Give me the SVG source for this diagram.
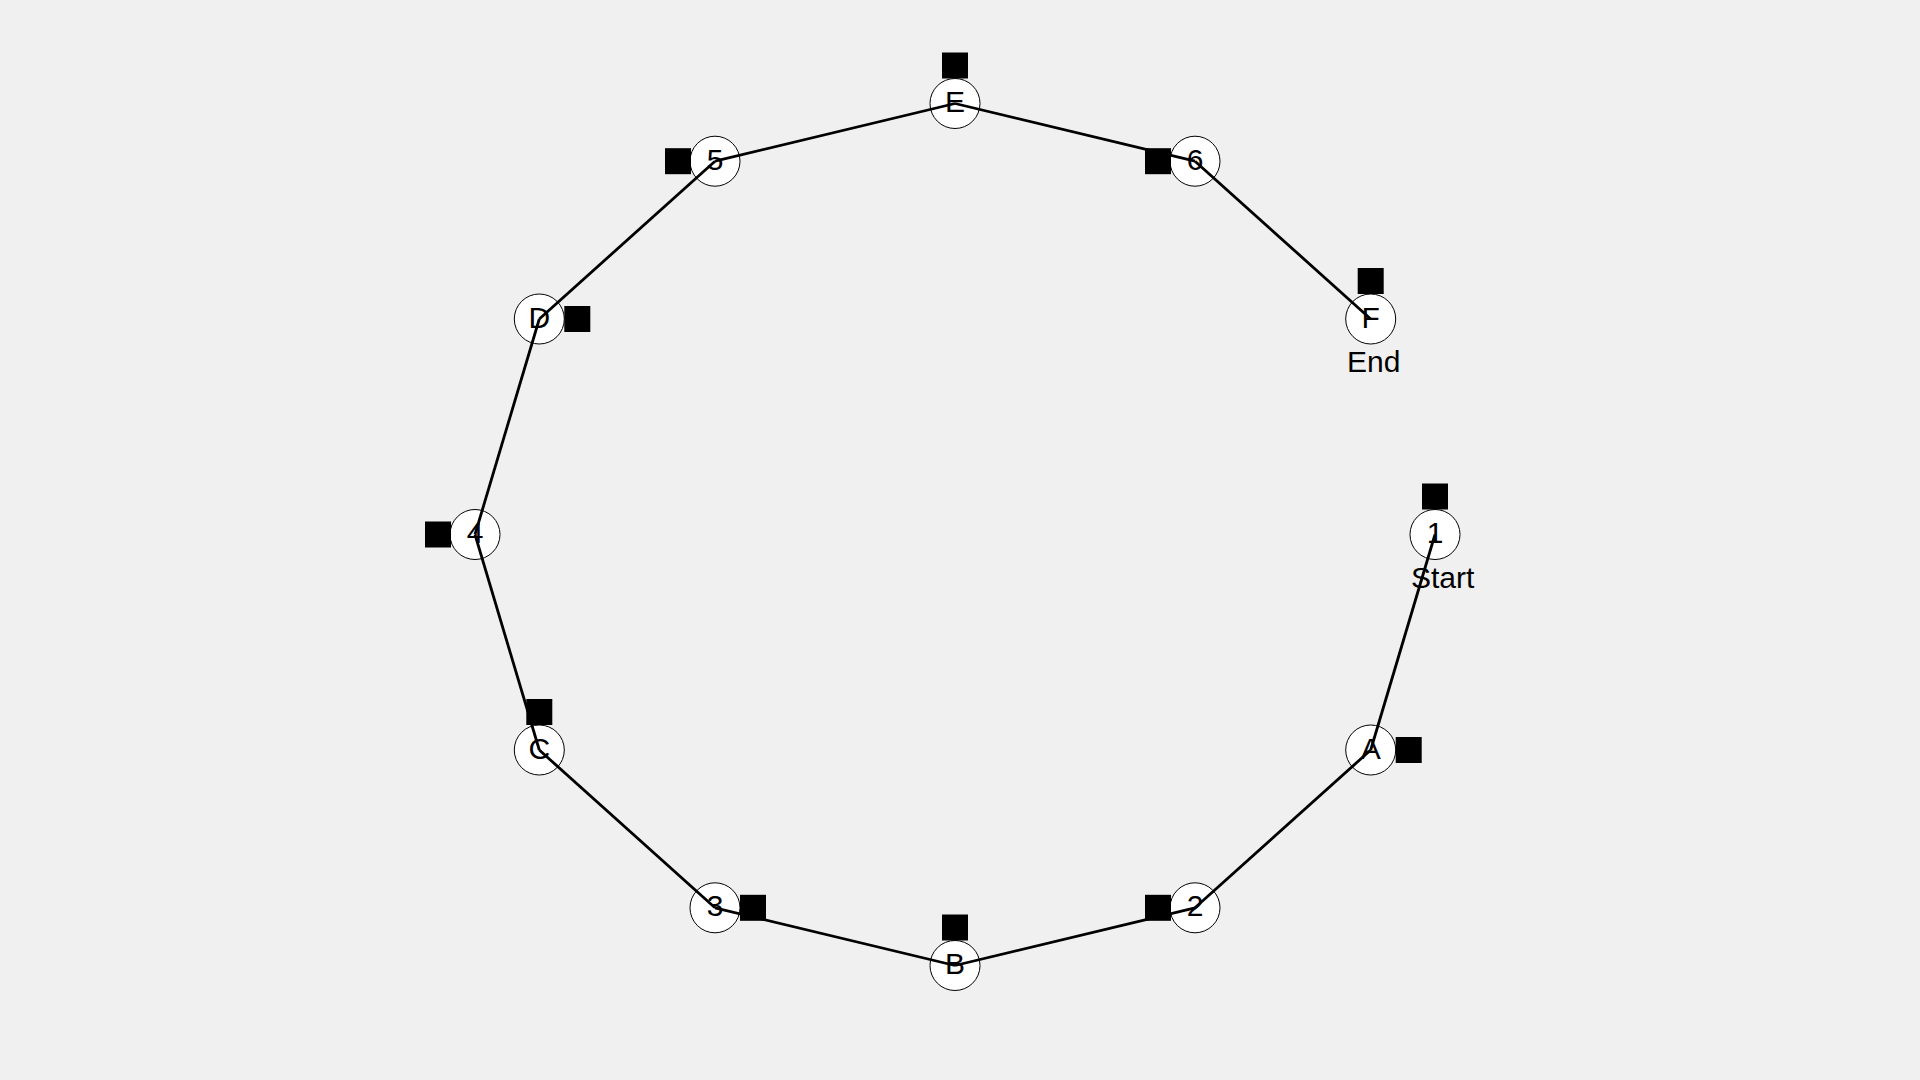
<svg xmlns="http://www.w3.org/2000/svg" width="1920" height="1080" viewBox="0 0 1920 1080">
<style>
.bg{fill:#f0f0f0}
.nc{fill:#ffffff;stroke:#000000;stroke-width:1}
.sq{fill:#000000}
.lbl{font-family:"Liberation Sans",Arial,sans-serif;font-size:30px;fill:#000000;text-anchor:middle}
.cap{font-family:"Liberation Sans",Arial,sans-serif;font-size:30px;fill:#000000}
.edge{stroke:#000000;stroke-width:2.8;fill:none}
</style>
<rect class="bg" x="0" y="0" width="1920" height="1080"/>
<g id="nodes">
<g id="node-1"><circle class="nc" cx="1435" cy="534.5" r="25"/><rect class="sq" x="1422" y="483.5" width="26" height="26"/><text class="lbl" x="1435" y="543">1</text><text class="cap" x="1411" y="588">Start</text></g>
<g id="node-A"><circle class="nc" cx="1370.7" cy="750" r="25"/><rect class="sq" x="1395.7" y="737" width="26" height="26"/><text class="lbl" x="1370.7" y="758.5">A</text></g>
<g id="node-2"><circle class="nc" cx="1195" cy="907.8" r="25"/><rect class="sq" x="1145" y="894.8" width="26" height="26"/><text class="lbl" x="1195" y="916.3">2</text></g>
<g id="node-B"><circle class="nc" cx="955" cy="965.5" r="25"/><rect class="sq" x="942" y="914.5" width="26" height="26"/><text class="lbl" x="955" y="974">B</text></g>
<g id="node-3"><circle class="nc" cx="715" cy="907.8" r="25"/><rect class="sq" x="740" y="894.8" width="26" height="26"/><text class="lbl" x="715" y="916.3">3</text></g>
<g id="node-C"><circle class="nc" cx="539.3" cy="750" r="25"/><rect class="sq" x="526.3" y="699" width="26" height="26"/><text class="lbl" x="539.3" y="758.5">C</text></g>
<g id="node-4"><circle class="nc" cx="475" cy="534.5" r="25"/><rect class="sq" x="425" y="521.5" width="26" height="26"/><text class="lbl" x="475" y="543">4</text></g>
<g id="node-D"><circle class="nc" cx="539.3" cy="319" r="25"/><rect class="sq" x="564.3" y="306" width="26" height="26"/><text class="lbl" x="539.3" y="327.5">D</text></g>
<g id="node-5"><circle class="nc" cx="715" cy="161.2" r="25"/><rect class="sq" x="665" y="148.2" width="26" height="26"/><text class="lbl" x="715" y="169.7">5</text></g>
<g id="node-E"><circle class="nc" cx="955" cy="103.5" r="25"/><rect class="sq" x="942" y="52.5" width="26" height="26"/><text class="lbl" x="955" y="112">E</text></g>
<g id="node-6"><circle class="nc" cx="1195" cy="161.2" r="25"/><rect class="sq" x="1145" y="148.2" width="26" height="26"/><text class="lbl" x="1195" y="169.7">6</text></g>
<g id="node-F"><circle class="nc" cx="1370.7" cy="319" r="25"/><rect class="sq" x="1357.7" y="268" width="26" height="26"/><text class="lbl" x="1370.7" y="327.5">F</text><text class="cap" x="1347" y="372">End</text></g>
</g>
<g id="connectors">
<line class="edge" x1="1435" y1="534.5" x2="1370.7" y2="750"/>
<line class="edge" x1="1370.7" y1="750" x2="1195" y2="907.8"/>
<line class="edge" x1="1195" y1="907.8" x2="955" y2="965.5"/>
<line class="edge" x1="955" y1="965.5" x2="715" y2="907.8"/>
<line class="edge" x1="715" y1="907.8" x2="539.3" y2="750"/>
<line class="edge" x1="539.3" y1="750" x2="475" y2="534.5"/>
<line class="edge" x1="475" y1="534.5" x2="539.3" y2="319"/>
<line class="edge" x1="539.3" y1="319" x2="715" y2="161.2"/>
<line class="edge" x1="715" y1="161.2" x2="955" y2="103.5"/>
<line class="edge" x1="955" y1="103.5" x2="1195" y2="161.2"/>
<line class="edge" x1="1195" y1="161.2" x2="1370.7" y2="319"/>
</g>
</svg>
